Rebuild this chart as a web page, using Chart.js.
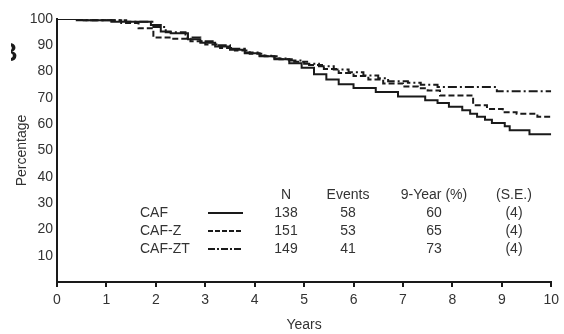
<!DOCTYPE html>
<html>
<head>
<meta charset="utf-8">
<script src="https://cdn.jsdelivr.net/npm/chart.js@4/dist/chart.umd.min.js"></script>
<style>
  html, body { margin: 0; padding: 0; background: #ffffff; }
  #wrap { width: 564px; height: 334px; }
  canvas { display: block; }
</style>
</head>
<body>
<div id="wrap"><canvas id="c" width="564" height="334"></canvas></div>
<script>
// ---- Data ----
const xTicks = [0, 1, 2, 3, 4, 5, 6, 7, 8, 9, 10];
const yTicks = [10, 20, 30, 40, 50, 60, 70, 80, 90, 100];

const seriesNames = ['CAF', 'CAF-Z', 'CAF-ZT'];

// CAF (solid)
const cafYears = [0, 0.4, 1.1, 1.9, 2.1, 2.3, 2.65, 2.9, 3.2, 3.5, 3.8, 4.1, 4.4, 4.7, 4.95, 5.2, 5.45, 5.7, 6.0, 6.45, 6.9, 7.45, 7.7, 7.93, 8.2, 8.36, 8.5, 8.66, 8.8, 9.06, 9.16, 9.56, 10];
const cafPct   = [100, 99.5, 99, 97.7, 95.2, 94.6, 92.3, 91, 89.5, 88.3, 87, 85.8, 84.7, 83.2, 81.5, 79, 77, 75.2, 73.8, 72.2, 70.5, 69.1, 68.1, 66.6, 65.3, 64, 62.8, 61.7, 60.5, 59.2, 57.7, 56.2, 56.2];

// CAF-Z (dashed)
const cafzYears = [0, 0.5, 1.3, 1.65, 1.95, 2.3, 2.7, 3.0, 3.3, 3.6, 3.9, 4.2, 4.5, 4.8, 5.1, 5.4, 5.7, 6.0, 6.3, 6.6, 7.0, 7.3, 7.5, 7.75, 8.42, 8.7, 9.02, 9.3, 9.72, 9.99];
const cafzPct   = [100, 99.5, 98.5, 96.5, 93, 92.5, 91.5, 90.3, 89, 88, 86.8, 85.8, 84.7, 83.7, 82.5, 81, 79.5, 78.3, 77, 75.5, 74.3, 73.7, 72.8, 70.9, 67.2, 65.8, 64.5, 64, 62.8, 62.8];

// CAF-ZT (dash-dot)
const cafztYears = [0, 0.6, 1.4, 1.95, 2.2, 2.6, 2.9, 3.2, 3.5, 3.8, 4.1, 4.4, 4.7, 5.0, 5.3, 5.6, 5.9, 6.2, 6.5, 6.7, 7.1, 7.36, 7.7, 8.9, 10];
const cafztPct   = [100, 99.5, 99, 97, 95, 93, 91.5, 90, 88.7, 87.3, 86, 85, 84.2, 83, 82, 80.8, 79.8, 78.5, 77.5, 76.3, 75.8, 75, 74.1, 72.5, 72.5];

// Table in the legend
const tableHeaders = ['N', 'Events', '9-Year (%)', '(S.E.)'];
const nValues      = [138, 151, 149];
const eventValues  = [58, 53, 41];
const nineYearPct  = [60, 65, 73];
const seValues     = [4, 4, 4];

// ---- Styles ----
const FONT = '"Liberation Sans", Arial, Helvetica, sans-serif';
const INK = '#1a1a1a';
const TXT = '#333333';
const dashes = [[], [6, 3], [9, 3, 2, 3]];
const legendDashes = [[], [5, 2], [7, 2, 2, 2]];

function pts(xs, ys) { return xs.map((x, i) => ({ x: x, y: ys[i] })); }

const allYears = [cafYears, cafzYears, cafztYears];
const allPct = [cafPct, cafzPct, cafztPct];

const datasets = seriesNames.map((name, i) => ({
  label: name,
  data: pts(allYears[i], allPct[i]),
  stepped: true,
  borderColor: INK,
  borderWidth: 2,
  borderDash: dashes[i],
  pointRadius: 0,
  fill: false,
  tension: 0
}));

const tablePlugin = {
  id: 'kmTable',
  afterDraw(chart) {
    const ctx = chart.ctx;
    ctx.save();
    // partial panel letter at the left edge
    ctx.save();
    ctx.beginPath();
    ctx.rect(11, 35, 7, 32);
    ctx.clip();
    ctx.fillStyle = INK;
    ctx.font = 'bold 25px ' + FONT;
    ctx.textAlign = 'right';
    ctx.textBaseline = 'alphabetic';
    ctx.fillText('B', 17.5, 61);
    ctx.restore();

    ctx.font = '14px ' + FONT;
    ctx.fillStyle = TXT;
    ctx.textBaseline = 'middle';
    const colX = [286, 348, 434, 514];
    const headY = 195;
    const rowY = [213, 231, 249];
    ctx.textAlign = 'center';
    tableHeaders.forEach((h, j) => ctx.fillText(h, colX[j], headY));
    seriesNames.forEach((name, i) => {
      ctx.textAlign = 'left';
      ctx.fillStyle = TXT;
      ctx.fillText(name, 140, rowY[i]);
      ctx.beginPath();
      ctx.setLineDash(legendDashes[i]);
      ctx.strokeStyle = INK;
      ctx.lineWidth = 2;
      ctx.moveTo(208, rowY[i]);
      ctx.lineTo(243, rowY[i]);
      ctx.stroke();
      ctx.setLineDash([]);
      ctx.textAlign = 'center';
      ctx.fillText(String(nValues[i]), colX[0], rowY[i]);
      ctx.fillText(String(eventValues[i]), colX[1], rowY[i]);
      ctx.fillText(String(nineYearPct[i]), colX[2], rowY[i]);
      ctx.fillText('(' + seValues[i] + ')', colX[3], rowY[i]);
    });
    ctx.restore();
  }
};

new Chart(document.getElementById('c'), {
  type: 'line',
  data: { datasets: datasets },
  options: {
    responsive: false,
    animation: false,
    devicePixelRatio: 1,
    layout: { padding: { left: 0, right: 7, top: 19, bottom: 0 } },
    plugins: { legend: { display: false }, tooltip: { enabled: false }, title: { display: false } },
    scales: {
      x: {
        type: 'linear',
        min: 0,
        max: 10,
        afterBuildTicks(scale) { scale.ticks = xTicks.map(v => ({ value: v })); },
        afterFit(scale) { scale.height = 52; },
        ticks: { color: TXT, font: { family: FONT, size: 14 }, padding: 5, maxRotation: 0, autoSkip: false },
        grid: { display: true, drawOnChartArea: false, drawTicks: true, tickLength: 5, color: INK, lineWidth: 2 },
        border: { display: true, color: INK, width: 2 },
        title: { display: true, text: 'Years', color: TXT, font: { family: FONT, size: 14 }, padding: { top: 1, bottom: 0 } }
      },
      y: {
        type: 'linear',
        min: 0,
        max: 100,
        afterBuildTicks(scale) { scale.ticks = yTicks.map(v => ({ value: v })); },
        afterFit(scale) { scale.width = 57; },
        ticks: { color: TXT, font: { family: FONT, size: 14 }, padding: 4, autoSkip: false },
        grid: { display: false, drawTicks: false },
        border: { display: true, color: INK, width: 2 },
        title: { display: true, text: 'Percentage', color: TXT, font: { family: FONT, size: 14 }, padding: { top: 14, bottom: 0 } }
      }
    }
  },
  plugins: [tablePlugin]
});
</script>
</body>
</html>
